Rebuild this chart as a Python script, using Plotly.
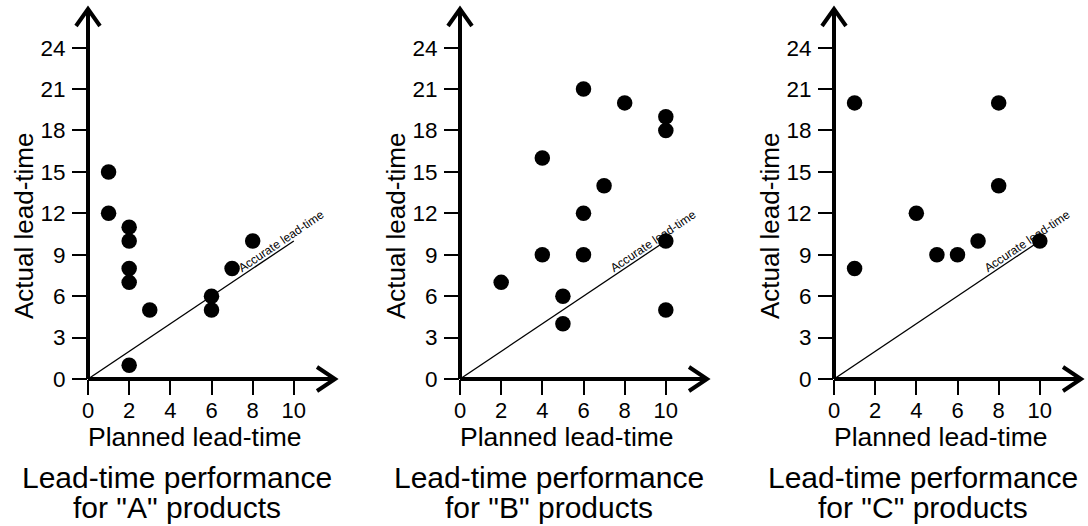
import plotly.graph_objects as go

# ---- data ----
a_planned = [1, 1, 2, 2, 2, 2, 3, 2, 6, 6, 7, 8]
a_actual = [15, 12, 11, 10, 8, 7, 5, 1, 6, 5, 8, 10]

b_planned = [2, 4, 4, 5, 5, 6, 6, 6, 7, 8, 10, 10, 10, 10]
b_actual = [7, 16, 9, 6, 4, 21, 12, 9, 14, 20, 19, 18, 10, 5]

c_planned = [1, 1, 4, 5, 6, 7, 8, 8, 10]
c_actual = [20, 8, 12, 9, 9, 10, 20, 14, 10]

accurate_x = [0, 10]
accurate_y = [0, 10]

x_ticks = [0, 2, 4, 6, 8, 10]
y_ticks = [0, 3, 6, 9, 12, 15, 18, 21, 24]

panels = [
    ("A", a_planned, a_actual),
    ("B", b_planned, b_actual),
    ("C", c_planned, c_actual),
]

W, H = 1088, 526
axis_px = [88, 460, 834]
panel_w = 247
y0_px, ytop_px = 379, 9

FONT = "Liberation Sans, Arial, sans-serif"


def px(xp):
    return xp / W


def py(yp):
    return (H - yp) / H


fig = go.Figure()
layout = dict(
    width=W, height=H,
    margin=dict(l=0, r=0, t=0, b=0, pad=0, autoexpand=False),
    paper_bgcolor="white", plot_bgcolor="white",
    showlegend=False, template="none",
    font=dict(family=FONT, color="black"),
)
shapes = []
annotations = []
LINE = dict(color="black", width=4)


def label(x, y, text, size, angle=0, xref="paper", yref="paper"):
    return dict(x=x, y=y, xref=xref, yref=yref, text=text, showarrow=False,
                xanchor="center", yanchor="middle", textangle=angle,
                font=dict(size=size, family=FONT, color="black"))


for i, (name, px_, py_) in enumerate(panels):
    n = "" if i == 0 else str(i + 1)
    xa, ya = "x" + n, "y" + n
    fig.add_trace(go.Scatter(x=accurate_x, y=accurate_y, mode="lines",
                             line=dict(color="black", width=1.3),
                             xaxis=xa, yaxis=ya, hoverinfo="skip"))
    fig.add_trace(go.Scatter(x=px_, y=py_, mode="markers",
                             marker=dict(color="black", size=15.5),
                             xaxis=xa, yaxis=ya, cliponaxis=False))
    L = axis_px[i]
    R = L + panel_w
    layout["xaxis" + n] = dict(
        domain=[px(L), px(R)], range=[0, 12], anchor=ya, automargin=False,
        tickvals=x_ticks, ticks="outside", ticklen=15, tickwidth=2,
        tickcolor="black", showgrid=False, zeroline=False, showline=False,
        ticklabelstandoff=-3,
        tickfont=dict(size=22, family=FONT, color="black"),
    )
    layout["yaxis" + n] = dict(
        domain=[py(y0_px), py(ytop_px)], range=[0, 26.8], automargin=False,
        anchor=xa, tickvals=y_ticks, ticks="outside", ticklen=15,
        tickwidth=2, tickcolor="black", showgrid=False, zeroline=False,
        showline=False, ticklabelstandoff=2,
        tickfont=dict(size=22.5, family=FONT, color="black"),
    )
    # axis lines (paper coords, unclipped)
    shapes.append(dict(type="line", xref="paper", yref="paper",
                       x0=px(L), x1=px(R), y0=py(y0_px), y1=py(y0_px),
                       line=LINE))
    shapes.append(dict(type="line", xref="paper", yref="paper",
                       x0=px(L), x1=px(L), y0=py(y0_px), y1=py(ytop_px),
                       line=LINE))
    # arrow heads (open chevrons)
    shapes.append(dict(type="path", xref="paper", yref="paper",
                       path="M %f,%f L %f,%f L %f,%f" % (
                           px(R - 18), py(y0_px - 12), px(R), py(y0_px),
                           px(R - 18), py(y0_px + 12)),
                       line=LINE))
    shapes.append(dict(type="path", xref="paper", yref="paper",
                       path="M %f,%f L %f,%f L %f,%f" % (
                           px(L - 12), py(ytop_px + 17), px(L), py(ytop_px),
                           px(L + 12), py(ytop_px + 17)),
                       line=LINE))
    # line label
    annotations.append(label(9.4, 10.0, "Accurate lead-time", 12, -34,
                             xref=xa, yref=ya))
    # y title
    annotations.append(label(px(L - 64), py(226), "Actual lead-time", 26, -90))
    # x title
    annotations.append(label(px(L + 107), py(437), "Planned lead-time", 26.5))
    # caption
    annotations.append(label(px(L + 89), py(477), "Lead-time performance", 30))
    annotations.append(label(px(L + 89), py(507),
                             'for "%s" products' % name, 30))

layout["shapes"] = shapes
layout["annotations"] = annotations
fig.update_layout(**layout)
fig.write_html("out.html", config={"displayModeBar": False},
               post_script="document.body.style.margin='0';"
                           "document.body.style.padding='0';")
